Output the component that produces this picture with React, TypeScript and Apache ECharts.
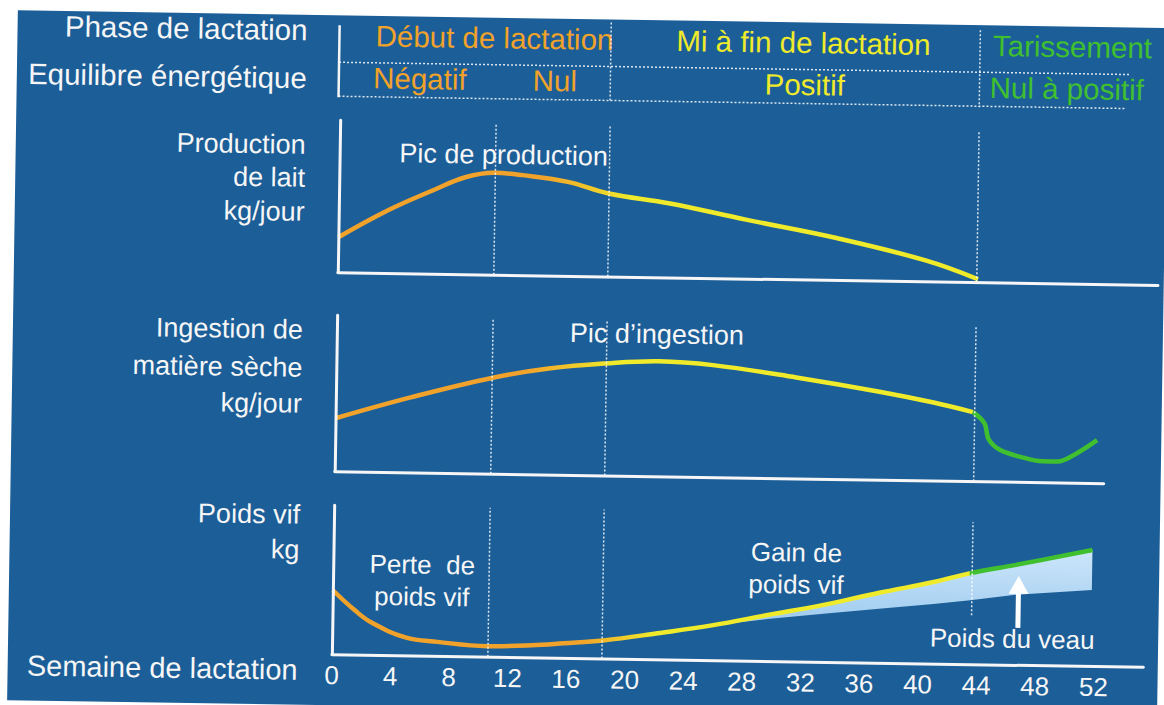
import React, { useEffect, useRef } from "react";
import * as echarts from "echarts";

// ---------- DATA ----------
// x axis: semaine de lactation
const weekTickStep = 4;

// Phase boundaries (weeks)
const lactationBounds = [0, 18.4, 43.6];
const energyBounds = [0, 10.6, 18.4, 43.6];
const dashedWeeks = [10.6, 18.4, 43.6];

const phaseLabels = ["Début de lactation", "Mi à fin de lactation", "Tarissement"];
const energyLabels = ["Négatif", "Nul", "Positif", "Nul à positif"];

// Production de lait (relative units)
const prodWeeks = [0, 3.4, 6.5, 8.6, 10.6, 12.5, 15.6, 18.4, 22.6, 27.8, 34, 40.1, 43.7];
const prodValues = [35, 63, 84, 97, 102, 100, 94, 83, 74, 59, 42, 21, 3];

// Ingestion de matière sèche (relative units)
const intakeWeeks = [0, 5.1, 10.7, 14.5, 18.4, 22, 25.7, 31.4, 37.1, 40.8, 43.5, 44.3, 44.6, 45.4, 46.8, 48.3, 49.3, 50.4, 52];
const intakeValues = [53, 75, 96, 106, 112, 115, 112, 101, 88, 78, 69, 58, 42, 31.5, 25, 21, 21, 27.5, 43];

// Poids vif (relative units)
const weightWeeks = [0, 1.5, 2.7, 5, 7.2, 10.6, 13.6, 15.8, 18.5, 22.2, 26, 29.7, 33.5, 37.3, 41, 43.5, 46.6, 51.8];
const weightValues = [64, 44.5, 32, 18, 14, 10.5, 12, 14.5, 18, 26, 35, 46, 57, 70, 81.5, 91, 100, 116];

// Poids du veau: lower edge of the shaded band
const calfWeeks = [26, 29.7, 33.5, 37.3, 41, 43.5, 46.6, 51.8];
const calfLowerValues = [35, 42, 48, 54, 59.5, 64, 70, 76];

// arrow "Poids du veau"
const calfArrowWeek = 46.8;
const calfArrowFrom = 37;
const calfArrowTo = 80;

// ---------- STYLE ----------
const FONT = '"Liberation Sans", Arial, Helvetica, sans-serif';
const ORANGE = "#f1a22a";
const YELLOW = "#efeb2b";
const GREEN = "#40c02e";
const WHITE = "#f6f6f6";
const PXW = 14.65;
const LEFT = 342;
const DRY_START = lactationBounds[2];

const zip = (xs: number[], ys: number[]) => xs.map((x, i) => [x, ys[i]]);

function hGrad(xmin: number, xmax: number, stops: [number, string][]) {
  return new echarts.graphic.LinearGradient(
    0, 0, 1, 0,
    stops.map(([w, c]) => ({ offset: Math.max(0, Math.min(1, (w - xmin) / (xmax - xmin))), color: c }))
  );
}

function txt(text: string, x: number, y: number, fill: string, size: number, align = "center") {
  return {
    type: "text",
    x,
    y,
    silent: true,
    style: {
      text,
      fill,
      fontSize: size,
      fontFamily: FONT,
      align,
      textAlign: align,
      verticalAlign: "middle",
      textVerticalAlign: "middle",
    },
  };
}

export default function App() {
  const ref = useRef<HTMLDivElement>(null);

  useEffect(() => {
    const chart = echarts.init(ref.current!, null, { renderer: "svg" });

    const grids = [
      { left: LEFT, top: 115, width: 56 * PXW, height: 152, max: 56, ymax: 152 },
      { left: LEFT, top: 310, width: 52.5 * PXW, height: 156, max: 52.5, ymax: 156 },
      { left: LEFT, top: 500, width: 55.4 * PXW, height: 149, max: 55.4, ymax: 149 },
    ];

    const dashStyle = { color: "rgba(255,255,255,0.85)", type: [2, 2] as any, width: 1.5 };
    const vLines = (ws: number[]) => ws.map((w) => ({ xAxis: w }));

    // split intake curve into lactation part and dry (tarissement) part
    const splitIdx = intakeWeeks.findIndex((w) => w >= DRY_START - 0.15);
    const intakeLact = zip(intakeWeeks.slice(0, splitIdx + 1), intakeValues.slice(0, splitIdx + 1));
    const intakeDry = zip(intakeWeeks.slice(splitIdx), intakeValues.slice(splitIdx));

    const calfTop = calfWeeks.map((w) => weightValues[weightWeeks.indexOf(w)]);

    const option: any = {
      animation: false,
      textStyle: { fontFamily: FONT },
      grid: grids.map((g) => ({ left: g.left, top: g.top, width: g.width, height: g.height, containLabel: false })),
      xAxis: grids.map((g, i) => ({
        type: "value",
        gridIndex: i,
        min: 0,
        max: g.max,
        interval: weekTickStep,
        z: 5,
        axisLine: { show: true, lineStyle: { color: WHITE, width: 3 } },
        axisTick: { show: false },
        splitLine: { show: false },
        axisLabel: {
          show: i === 2,
          color: WHITE,
          fontSize: 26,
          fontFamily: FONT,
          margin: 8,
          showMaxLabel: false,
          formatter: (v: number) => (v <= 52 ? String(v) : ""),
        },
      })),
      yAxis: grids.map((g, i) => ({
        type: "value",
        gridIndex: i,
        min: 0,
        max: g.ymax,
        z: 5,
        axisLine: { show: true, onZero: false, lineStyle: { color: WHITE, width: 3 } },
        axisTick: { show: false },
        axisLabel: { show: false },
        splitLine: { show: false },
      })),
      series: [
        {
          name: "Production de lait",
          type: "line",
          xAxisIndex: 0,
          yAxisIndex: 0,
          data: zip(prodWeeks, prodValues),
          smooth: 0.4,
          showSymbol: false,
          lineStyle: {
            width: 4.5,
            color: hGrad(0, prodWeeks[prodWeeks.length - 1], [[0, ORANGE], [14, ORANGE], [20, YELLOW], [60, YELLOW]]),
          },
          markLine: { silent: true, symbol: "none", label: { show: false }, lineStyle: dashStyle, data: vLines(dashedWeeks) },
        },
        {
          name: "Ingestion de matière sèche",
          type: "line",
          xAxisIndex: 1,
          yAxisIndex: 1,
          data: intakeLact,
          smooth: 0.4,
          showSymbol: false,
          lineStyle: {
            width: 4.5,
            color: hGrad(0, intakeLact[intakeLact.length - 1][0], [[0, ORANGE], [13, ORANGE], [19, YELLOW], [60, YELLOW]]),
          },
          markLine: { silent: true, symbol: "none", label: { show: false }, lineStyle: dashStyle, data: vLines(dashedWeeks) },
        },
        {
          name: "Ingestion (tarissement)",
          type: "line",
          xAxisIndex: 1,
          yAxisIndex: 1,
          data: intakeDry,
          smooth: 0.35,
          showSymbol: false,
          lineStyle: { width: 4.5, color: GREEN },
        },
        {
          name: "Poids du veau",
          type: "custom",
          xAxisIndex: 2,
          yAxisIndex: 2,
          data: [[calfWeeks[0], calfLowerValues[0]]],
          silent: true,
          clip: false,
          renderItem: (params: any, api: any) => {
            const top = calfWeeks.map((w, i) => api.coord([w, calfTop[i]]));
            const bottom = calfWeeks.map((w, i) => api.coord([w, calfLowerValues[i]])).reverse();
            return {
              type: "polygon",
              shape: { points: top.concat(bottom) },
              style: {
                fill: new echarts.graphic.LinearGradient(0, 0, 0, 1, [
                  { offset: 0, color: "#cde6fa" },
                  { offset: 1, color: "#9ccaef" },
                ]),
              },
            };
          },
        },
        {
          name: "Poids vif",
          type: "line",
          xAxisIndex: 2,
          yAxisIndex: 2,
          data: zip(weightWeeks, weightValues),
          smooth: 0.4,
          showSymbol: false,
          lineStyle: {
            width: 4.5,
            color: hGrad(0, weightWeeks[weightWeeks.length - 1], [
              [0, ORANGE], [17, ORANGE], [22, YELLOW], [43.4, YELLOW], [43.5, GREEN], [60, GREEN],
            ]),
          },
          markLine: {
            silent: true,
            symbol: "none",
            label: { show: false },
            lineStyle: dashStyle,
            data: [
              { xAxis: dashedWeeks[0] },
              { xAxis: dashedWeeks[1] },
              [{ coord: [dashedWeeks[2], 49] }, { coord: [dashedWeeks[2], 142] }],
              [
                {
                  coord: [calfArrowWeek, calfArrowFrom],
                  symbol: "none",
                  lineStyle: { color: "#ffffff", width: 5, type: "solid" },
                },
                { coord: [calfArrowWeek, calfArrowTo], symbol: "triangle", symbolSize: [20, 18] },
              ],
            ],
          },
        },
      ],
    };

    chart.setOption(option);

    const px = (w: number) => chart.convertToPixel({ xAxisIndex: 0 }, w) as number;
    const dash = { stroke: "rgba(255,255,255,0.85)", lineWidth: 1.5, lineDash: [2, 2] };

    const graphics: any[] = [
      // left labels
      txt("Phase de lactation", 308, 25, WHITE, 29.5, "right"),
      txt("Equilibre énergétique", 308, 73, WHITE, 29.5, "right"),
      txt("Production", 308, 140, WHITE, 27, "right"),
      txt("de lait", 308, 173, WHITE, 27, "right"),
      txt("kg/jour", 308, 207, WHITE, 27, "right"),
      txt("Ingestion de", 308, 325, WHITE, 27, "right"),
      txt("matière sèche", 308, 363, WHITE, 27, "right"),
      txt("kg/jour", 308, 399, WHITE, 27, "right"),
      txt("Poids vif", 308, 510, WHITE, 27, "right"),
      txt("kg", 308, 545, WHITE, 27, "right"),
      txt("Semaine de lactation", 308, 665, WHITE, 29, "right"),
      // header
      txt(phaseLabels[0], 495, 30, ORANGE, 29.5),
      txt(phaseLabels[1], 804, 30, YELLOW, 29.5),
      txt(phaseLabels[2], 1073, 30, GREEN, 29.5),
      txt(energyLabels[0], 421, 72, ORANGE, 29.5),
      txt(energyLabels[1], 556, 72, ORANGE, 29.5),
      txt(energyLabels[2], 806, 72, YELLOW, 29.5),
      txt(energyLabels[3], 1068, 72, GREEN, 29.5),
      // annotations
      txt("Pic de production", 506, 147, WHITE, 27),
      txt("Pic d’ingestion", 662, 324, WHITE, 27),
      txt("Perte  de", 431, 558, WHITE, 26),
      txt("poids vif", 431, 590, WHITE, 26),
      txt("Gain de", 805, 540, WHITE, 26),
      txt("poids vif", 805, 572, WHITE, 26),
      txt("Poids du veau", 1022, 623, WHITE, 26),
      // header lines
      { type: "line", silent: true, shape: { x1: px(lactationBounds[0]) - 2, y1: 20, x2: px(lactationBounds[0]) - 2, y2: 92 }, style: { stroke: WHITE, lineWidth: 2.5 } },
      { type: "line", silent: true, shape: { x1: px(lactationBounds[1]), y1: 13, x2: px(lactationBounds[1]), y2: 92 }, style: dash },
      { type: "line", silent: true, shape: { x1: px(lactationBounds[2]), y1: 15, x2: px(lactationBounds[2]), y2: 92 }, style: dash },
      { type: "line", silent: true, shape: { x1: px(energyBounds[0]) - 2, y1: 57, x2: 1130, y2: 57 }, style: dash },
      { type: "line", silent: true, shape: { x1: px(energyBounds[0]) - 2, y1: 91, x2: 1127, y2: 91 }, style: dash },
    ];

    chart.setOption({ graphic: graphics });

    return () => chart.dispose();
  }, []);

  return (
    <div style={{ position: "fixed", left: 0, top: 0, right: 0, bottom: 0, background: "#ffffff", overflow: "hidden" }}>
      <div
        style={{
          position: "absolute",
          left: 0,
          top: 0,
          width: 1164,
          height: 705,
          transform: "rotate(0.89deg)",
          transformOrigin: "0 0",
        }}
      >
        <div style={{ position: "absolute", left: 18, top: 10, width: 1150, height: 690, background: "#1c5e98" }} />
        <div ref={ref} style={{ position: "absolute", left: 0, top: 0, width: 1164, height: 705 }} />
      </div>
    </div>
  );
}
